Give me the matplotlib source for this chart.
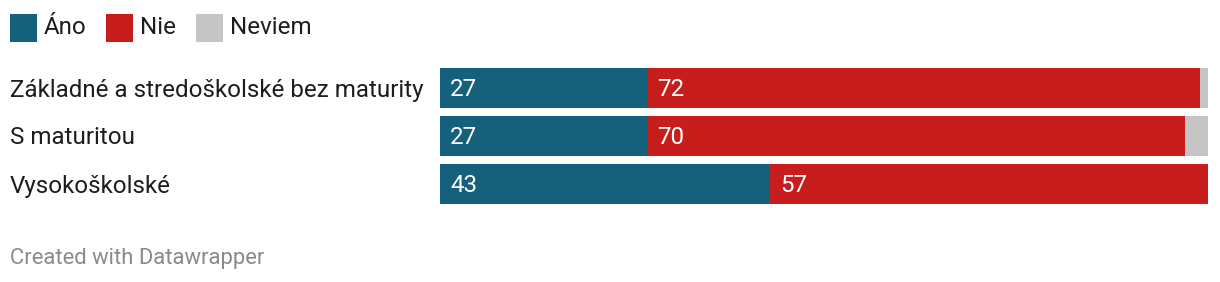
import matplotlib
matplotlib.use("Agg")
import matplotlib.pyplot as plt
from matplotlib.patches import Rectangle

categories = ["Základné a stredoškolské bez maturity", "S maturitou", "Vysokoškolské"]
series_names = ["Áno", "Nie", "Neviem"]
ano = [27, 27, 43]
nie = [72, 70, 57]
neviem = [1, 3, 0]
colors = ["#15607a", "#c71e1d", "#c5c5c5"]

plt.rcParams['font.family'] = ['Roboto', 'DejaVu Sans']

W, H = 1220, 282
fig = plt.figure(figsize=(W / 100, H / 100), dpi=100)

def fx(px):
    return px / W

def fy(py):
    return 1 - py / H

FS = 17.4

# bar axes: x from 440 to 1208 px, y rows centered at 88, 136, 184 (spacing 48)
top_px, bot_px = 64, 208
ax = fig.add_axes([fx(440), fy(bot_px), fx(1208) - fx(440), (bot_px - top_px) / H])
ax.set_xlim(0, 100)
ax.set_ylim(2.5, -0.5)
ax.axis("off")

ypos = list(range(len(categories)))
bh = 40 / 48
left = [0] * len(categories)
for name, vals, col in zip(series_names, [ano, nie, neviem], colors):
    ax.barh(ypos, vals, left=left, height=bh, color=col, linewidth=0)
    if name != "Neviem":
        for y, l, v in zip(ypos, left, vals):
            if v > 0:
                ax.annotate(str(v), xy=(l, y), xytext=(10, -8.5), textcoords="offset pixels",
                            ha="left", va="baseline", color="white", fontsize=FS)
    left = [a + b for a, b in zip(left, vals)]

# category labels
for y, cat in zip(ypos, categories):
    ax.annotate(cat, xy=(0, y), xycoords="data", xytext=(10, -8.5),
                textcoords=("figure pixels", "offset pixels"),
                ha="left", va="baseline", color="#1d1d1d", fontsize=FS, annotation_clip=False)

# legend
leg_x = [10, 106, 196]
for name, col, x0 in zip(series_names, colors, leg_x):
    fig.patches.append(Rectangle((fx(x0), fy(42)), 27 / W, 28 / H, transform=fig.transFigure,
                                 facecolor=col, edgecolor="none"))
    fig.text(fx(x0 + 34), fy(34.3), name, ha="left", va="baseline", fontsize=FS, color="#1d1d1d")

fig.text(fx(10), fy(264.3), "Created with Datawrapper", ha="left", va="baseline",
         fontsize=15.8, color="#8a8a8a")

fig.savefig("out.png", dpi=100, facecolor="white")
